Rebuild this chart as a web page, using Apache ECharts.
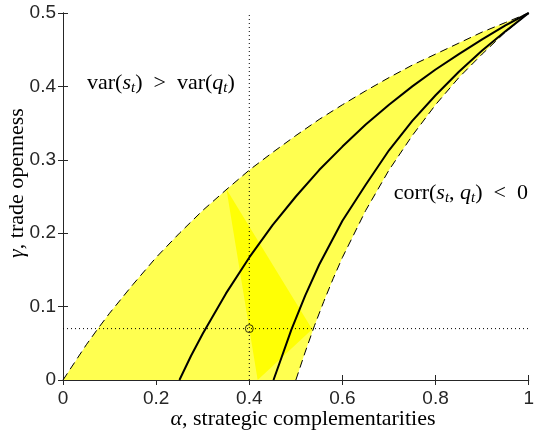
<!DOCTYPE html>
<html>
<head>
<meta charset="utf-8">
<script src="https://cdn.jsdelivr.net/npm/echarts@6/dist/echarts.min.js"></script>
<style>html,body{margin:0;padding:0;background:#fff;}#c{width:537px;height:432px;}</style>
</head>
<body>
<div id="c"></div>
<script>
// Upper dashed boundary
const upperAlpha = [0,0.025,0.05,0.075,0.1,0.15,0.2,0.25,0.3,0.35,0.4,0.45,0.5,0.55,0.6,0.65,0.7,0.75,0.8,0.85,0.9,0.95,1];
const upperGamma = [0,0.024,0.048,0.070,0.091,0.130,0.167,0.200,0.231,0.259,0.286,0.310,0.333,0.355,0.375,0.394,0.412,0.429,0.444,0.459,0.474,0.487,0.5];
// Lower dashed boundary
const lowerAlpha = [0.5,0.52,0.54,0.56,0.58,0.6,0.65,0.7,0.75,0.8,0.85,0.9,0.95,1];
const lowerGamma = [0,0.038,0.074,0.107,0.138,0.167,0.231,0.286,0.333,0.375,0.412,0.444,0.474,0.5];
// Solid curve 1
const solid1Alpha = [0.25,0.275,0.3,0.35,0.4,0.45,0.5,0.55,0.6,0.65,0.7,0.75,0.8,0.85,0.9,0.95,1];
const solid1Gamma = [0,0.033,0.063,0.118,0.167,0.211,0.250,0.286,0.318,0.348,0.375,0.400,0.423,0.444,0.464,0.483,0.5];
// Solid curve 2
const solid2Alpha = [0.452,0.47,0.49,0.52,0.55,0.6,0.65,0.7,0.75,0.8,0.85,0.9,0.95,1];
const solid2Gamma = [0,0.032,0.068,0.115,0.157,0.217,0.266,0.313,0.353,0.388,0.420,0.449,0.475,0.5];
// Bright triangle
const triAlpha = [0.351,0.535,0.418];
const triGamma = [0.260,0.069,0];
// Reference point and guide lines
const pointAlpha = 0.4;
const pointGamma = 0.07;
const xTickLabels = ['0','0.2','0.4','0.6','0.8','1'];
const yTickLabels = ['0','0.1','0.2','0.3','0.4','0.5'];

const zip = (a, b) => a.map((v, i) => [v, b[i]]);
const upper = zip(upperAlpha, upperGamma);
const lower = zip(lowerAlpha, lowerGamma);
const region = upper.concat(lower.slice().reverse());
const tri = zip(triAlpha, triGamma);

const axisColor = '#262626';
const tickFont = 'Liberation Sans';
const serif = 'Liberation Serif';

function polySeries(pts, color) {
  return {
    type: 'custom',
    data: [[0, 0]],
    silent: true,
    renderItem: function (params, api) {
      return {
        type: 'polygon',
        shape: { points: pts.map(p => api.coord(p)) },
        style: { fill: color, stroke: null }
      };
    }
  };
}
function lineSeries(data, width, type) {
  return {
    type: 'line', data: data, showSymbol: false, silent: true,
    lineStyle: { color: '#000', width: width, type: type }
  };
}

const baseAxis = {
  axisLine: { show: true, lineStyle: { color: axisColor, width: 1 } },
  axisTick: { show: true, inside: true, length: 5, lineStyle: { color: axisColor } },
  splitLine: { show: false }
};

const chart = echarts.init(document.getElementById('c'));
const richMath = function (size, color) {
  color = color || '#000';
  return {
    n: { fontFamily: serif, fontSize: size, lineHeight: size + 4, color: color },
    i: { fontFamily: serif, fontSize: size, fontStyle: 'italic', lineHeight: size + 4, color: color },
    sub: { fontFamily: serif, fontSize: Math.round(size * 0.7), fontStyle: 'italic', lineHeight: Math.round(size * 0.7), verticalAlign: 'bottom', color: color }
  };
};

chart.setOption({
  animation: false,
  grid: { left: 63, right: 3, top: 13, bottom: 52 },
  xAxis: [
    Object.assign({}, baseAxis, {
      type: 'value', min: 0, max: 1, interval: 0.2, position: 'bottom',
      axisLabel: { show: true, margin: 9, fontSize: 19, fontFamily: tickFont, color: axisColor,
        formatter: v => xTickLabels[Math.round(v / 0.2)] }
    }),
    Object.assign({}, baseAxis, {
      type: 'value', min: 0, max: 1, interval: 0.2, position: 'top', axisLabel: { show: false }
    })
  ],
  yAxis: [
    Object.assign({}, baseAxis, {
      type: 'value', min: 0, max: 0.5, interval: 0.1, position: 'left',
      axisLabel: { show: true, margin: 7, fontSize: 19, fontFamily: tickFont, color: axisColor,
        formatter: v => yTickLabels[Math.round(v / 0.1)] }
    }),
    Object.assign({}, baseAxis, {
      type: 'value', min: 0, max: 0.5, interval: 0.1, position: 'right', axisLabel: { show: false }
    })
  ],
  series: [
    polySeries(region, '#ffff50'),
    polySeries(tri, '#ffff05'),
    lineSeries(upper, 1, [8, 5]),
    lineSeries(lower, 1, [8, 5]),
    lineSeries(zip(solid1Alpha, solid1Gamma), 2, 'solid'),
    lineSeries(zip(solid2Alpha, solid2Gamma), 2, 'solid'),
    lineSeries([[pointAlpha, 0], [pointAlpha, 0.5]], 1, [1, 3]),
    lineSeries([[0, pointGamma], [1, pointGamma]], 1, [1, 3]),
    {
      type: 'scatter', data: [[pointAlpha, pointGamma]], symbol: 'circle', symbolSize: 8, silent: true,
      itemStyle: { color: 'rgba(0,0,0,0)', borderColor: '#000', borderWidth: 1 }
    }
  ],
  graphic: [
    { type: 'text', left: 87, top: 72, silent: true,
      style: { text: '{n|var(}{i|s}{sub|t}{n|)  >  var(}{i|q}{sub|t}{n|)}', rich: richMath(22) } },
    { type: 'text', right: 9, top: 182, silent: true,
      style: { text: '{n|corr(}{i|s}{sub|t}{n|, }{i|q}{sub|t}{n|)  <  0}', rich: richMath(22) } },
    { type: 'text', x: 303, y: 419, silent: true,
      style: { text: '{i|α}{n|, strategic complementarities}', rich: richMath(22, '#262626'), align: 'center', verticalAlign: 'middle' } },
    { type: 'text', x: 17, y: 183, rotation: Math.PI / 2, silent: true,
      style: { text: '{i|γ}{n|, trade openness}', rich: richMath(22, '#262626'), align: 'center', verticalAlign: 'middle' } }
  ]
});
</script>
</body>
</html>
